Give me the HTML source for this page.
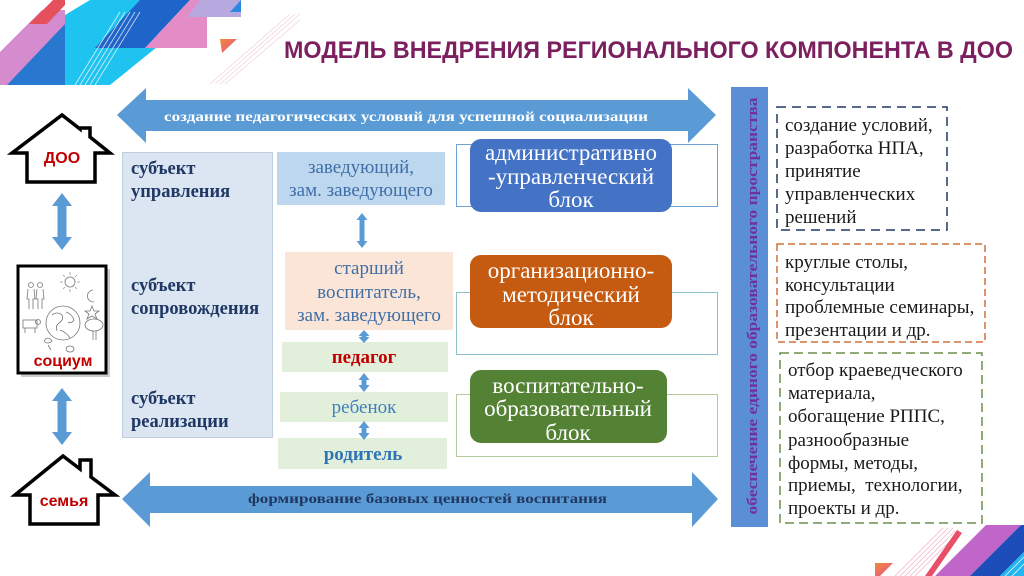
<!DOCTYPE html>
<html><head><meta charset="utf-8"><style>
html,body{margin:0;padding:0;background:#fff;}
svg{display:block;}
.serif{font-family:"Liberation Serif","DejaVu Serif",serif;}
.sans{font-family:"Liberation Sans","DejaVu Sans",sans-serif;}
</style></head><body>
<svg width="1024" height="576" viewBox="0 0 1024 576" xmlns="http://www.w3.org/2000/svg">
<defs>
<linearGradient id="og" x1="0" y1="0" x2="1" y2="1"><stop offset="0" stop-color="#f08a3c"/><stop offset="1" stop-color="#e8508a"/></linearGradient>
</defs>
<rect width="1024" height="576" fill="#fff"/>

<!-- top-left decoration -->
<polygon points="0,52 42,10 65,10 65,85 0,85" fill="#d58ccf"/>
<polygon points="7,85 65,24 65,85" fill="#2878d0"/>
<polygon points="65,85 65,15 90,0 157,0 157,47 110,85" fill="#1fc3ef"/>
<polygon points="95,48 145,48 190,0 140,0" fill="#1f64c8"/>
<polygon points="145,48 207,48 207,0 190,0" fill="#e38cc6"/>
<polygon points="187,17 241,17 241,0 200,0" fill="#b8a8e0"/>
<polygon points="230,12 241,0 241,12" fill="#2a8ae0"/>
<polygon points="29,24 47,24 65,5 65,0 53,0" fill="#e5505c"/>
<g stroke="#ffffff" stroke-width="0.8" opacity="0.8">
<line x1="75" y1="85" x2="120" y2="12"/><line x1="80" y1="85" x2="125" y2="12"/><line x1="85" y1="85" x2="130" y2="12"/><line x1="90" y1="85" x2="135" y2="12"/><line x1="95" y1="85" x2="140" y2="12"/>
</g>
<g stroke="#f2d0dc" stroke-width="0.7">
<line x1="210" y1="84" x2="290" y2="14"/><line x1="215" y1="84" x2="295" y2="14"/><line x1="220" y1="84" x2="300" y2="14"/><line x1="225" y1="84" x2="300" y2="20"/>
</g>
<polygon points="220,39 237,39 222,53" fill="url(#og)"/>

<!-- bottom-right decoration -->
<g stroke="#eeb0c8" stroke-width="0.7">
<line x1="895" y1="576" x2="943" y2="528"/><line x1="900" y1="576" x2="948" y2="528"/><line x1="905" y1="576" x2="953" y2="528"/><line x1="910" y1="576" x2="955" y2="531"/><line x1="915" y1="576" x2="955" y2="536"/>
</g>
<polygon points="875,563 893,563 880,576 875,576" fill="url(#og)"/>
<polygon points="925,576 932,576 962,533 957,530" fill="#e8506a"/>
<polygon points="935,576 970,576 1021,525 986,525" fill="#c066c8"/>
<polygon points="970,576 1000,576 1024,552 1024,525 1021,525" fill="#1c4db8"/>
<polygon points="1000,576 1024,576 1024,552" fill="#22b5ef"/>
<g stroke="#ffffff" stroke-width="0.7"><line x1="1005" y1="576" x2="1024" y2="557"/><line x1="1012" y1="576" x2="1024" y2="564"/></g>

<!-- title -->
<text x="284" y="58" class="sans" font-weight="bold" font-size="24" fill="#7b1f5e" textLength="729" lengthAdjust="spacingAndGlyphs">МОДЕЛЬ ВНЕДРЕНИЯ РЕГИОНАЛЬНОГО КОМПОНЕНТА В ДОО</text>

<!-- top arrow -->
<polygon points="117,115 146,88 146,100 688,100 688,88 716,115 688,143 688,131 146,131 146,143" fill="#5b9bd5"/>
<text x="164" y="121" class="serif" font-weight="bold" font-size="14" fill="#fff" textLength="484" lengthAdjust="spacingAndGlyphs">создание педагогических условий для успешной социализации</text>

<!-- bottom arrow -->
<polygon points="122,499 150,472 150,486 692,486 692,472 718,499 692,527 692,513 150,513 150,527" fill="#5b9bd5"/>
<text x="248" y="503" class="serif" font-weight="bold" font-size="14" fill="#1f3864" textLength="359" lengthAdjust="spacingAndGlyphs">формирование базовых ценностей воспитания</text>

<!-- vertical bar -->
<rect x="731" y="87" width="37" height="440" fill="#5a8fd6"/>
<text transform="translate(757,306) rotate(-90)" text-anchor="middle" class="serif" font-weight="bold" font-size="15" fill="#7030a0" textLength="417" lengthAdjust="spacingAndGlyphs">обеспечение  единого  образовательного  пространства</text>

<!-- houses -->
<path d="M12,153 L62,115 L80,129 L80,128 L90,128 L90,137 L110,153 L95,153 L95,182 L27,182 L27,153 Z" fill="#fff" stroke="#000" stroke-width="3.5" stroke-linejoin="miter"/>
<text x="62" y="163" text-anchor="middle" class="sans" font-weight="bold" font-size="16" fill="#c00000">ДОО</text>
<path d="M15,495 L63,456 L80,469 L80,460 L91,460 L91,477 L115,495 L98,495 L98,524 L30,524 L30,495 Z" fill="#fff" stroke="#000" stroke-width="3.5"/>
<text x="64" y="506" text-anchor="middle" class="sans" font-weight="bold" font-size="16" fill="#c00000">семья</text>

<!-- vertical double arrows left -->
<polygon points="62,193 72,206 66.5,206 66.5,237 72,237 62,250 52,237 57.5,237 57.5,206 52,206" fill="#5b9bd5"/>
<polygon points="62,388 72,401 66.5,401 66.5,432 72,432 62,445 52,432 57.5,432 57.5,401 52,401" fill="#5b9bd5"/>

<!-- socium -->
<rect x="21" y="269" width="89" height="108" fill="#9a9a9a" opacity="0.5"/>
<rect x="18" y="266" width="88" height="107" fill="#fff" stroke="#000" stroke-width="3"/>
<g fill="none" stroke="#777" stroke-width="0.8">
<circle cx="70" cy="282" r="5"/>
<g stroke="#999"><line x1="70" y1="272" x2="70" y2="275"/><line x1="70" y1="289" x2="70" y2="292"/><line x1="60" y1="282" x2="63" y2="282"/><line x1="77" y1="282" x2="80" y2="282"/><line x1="63" y1="275" x2="65" y2="277"/><line x1="75" y1="287" x2="77" y2="289"/><line x1="77" y1="275" x2="75" y2="277"/><line x1="63" y1="289" x2="65" y2="287"/></g>
<path d="M93,290 A6,6 0 1,0 94,302 A5,5 0 1,1 93,290 Z"/>
<circle cx="63" cy="323" r="17"/>
<path d="M52,315 q5,-4 10,0 q2,5 -3,8 q-4,3 -2,8 M66,312 q6,2 8,8 q-3,4 -6,2 M60,330 q6,2 10,8"/>
<polygon points="92,306 94,311 99,311 95,314 97,319 92,316 87,319 89,314 85,311 90,311"/>
<ellipse cx="94" cy="325" rx="9" ry="6"/><line x1="93" y1="331" x2="93" y2="340"/><line x1="96" y1="331" x2="96" y2="340"/>
<circle cx="31" cy="285" r="2.5"/><path d="M28,289 l-1,10 l2,0 l0,10 M34,289 l1,10 l-2,0 l0,10"/>
<circle cx="40" cy="285" r="2.5"/><path d="M37,289 l-1,10 l2,0 l0,10 M43,289 l1,10 l-2,0 l0,10"/>
<rect x="23" y="320" width="14" height="8"/><line x1="25" y1="328" x2="25" y2="333"/><line x1="35" y1="328" x2="35" y2="333"/><circle cx="38" cy="322" r="2.5"/>
<path d="M44,341 q4,-6 8,0 q-4,4 -8,0 M48,345 l3,5"/>
<ellipse cx="70" cy="349" rx="4" ry="3"/>
</g>
<text x="63" y="366" text-anchor="middle" class="sans" font-weight="bold" font-size="16" fill="#c00000">социум</text>

<!-- subject column -->
<rect x="122.5" y="152.5" width="150" height="285" fill="#dce6f2" stroke="#bfcde0" stroke-width="1"/>
<g class="serif" font-weight="bold" font-size="18.5" fill="#1f3864">
<text x="131" y="174">субъект</text>
<text x="131" y="197">управления</text>
<text x="131" y="291">субъект</text>
<text x="131" y="314">сопровождения</text>
<text x="131" y="404">субъект</text>
<text x="131" y="427">реализации</text>
</g>

<!-- middle column -->
<rect x="277" y="152" width="168" height="53" fill="#bdd7ee"/>
<rect x="285" y="252" width="168" height="78" fill="#fbe5d6"/>
<rect x="282" y="342" width="166" height="30" fill="#e2efda"/>
<rect x="280" y="392" width="168" height="30" fill="#e2efda"/>
<rect x="278" y="438" width="169" height="31" fill="#e2efda"/>
<g class="serif" font-size="19" fill="#3f6ea8" text-anchor="middle">
<text x="361" y="173">заведующий,</text>
<text x="361" y="196">зам. заведующего</text>
<text x="369" y="274">старший</text>
<text x="369" y="298">воспитатель,</text>
<text x="369" y="321">зам. заведующего</text>
<text x="364" y="413" fill="#3f7fbf">ребенок</text>
</g>
<text x="364" y="363" text-anchor="middle" class="serif" font-weight="bold" font-size="19" fill="#c00000">педагог</text>
<text x="363" y="460" text-anchor="middle" class="serif" font-weight="bold" font-size="19" fill="#2e75b6">родитель</text>

<!-- small arrows -->
<g fill="#5b9bd5">
<polygon points="362,213 367.5,220 364.5,220 364.5,241 367.5,241 362,248 356.5,241 359.5,241 359.5,220 356.5,220"/>
<polygon points="364,330 369.5,336 366.5,336 366.5,337 369.5,337 364,343 358.5,337 361.5,337 361.5,336 358.5,336"/>
<polygon points="364,373 369.5,380 366.5,380 366.5,385 369.5,385 364,392 358.5,385 361.5,385 361.5,380 358.5,380"/>
<polygon points="364,421 369.5,428 366.5,428 366.5,433 369.5,433 364,440 358.5,433 361.5,433 361.5,428 358.5,428"/>
</g>

<!-- blocks -->
<rect x="456.5" y="144.5" width="261" height="62" fill="none" stroke="#6fa3d6" stroke-width="1"/>
<rect x="456.5" y="292.5" width="261" height="62" fill="none" stroke="#8cc0cc" stroke-width="1"/>
<rect x="456.5" y="394.5" width="261" height="62" fill="none" stroke="#b4c99c" stroke-width="1"/>
<rect x="470" y="139" width="202" height="73" rx="11" fill="#4472c4"/>
<rect x="470" y="255" width="202" height="73" rx="11" fill="#c55a11"/>
<rect x="470" y="370" width="197" height="73" rx="11" fill="#548235"/>
<g class="serif" font-size="23" fill="#fff" text-anchor="middle">
<text x="571" y="160">административно</text>
<text x="571" y="184">-управленческий</text>
<text x="571" y="207">блок</text>
<text x="571" y="278">организационно-</text>
<text x="571" y="302">методический</text>
<text x="571" y="325">блок</text>
<text x="568" y="393">воспитательно-</text>
<text x="568" y="416">образовательный</text>
<text x="568" y="440">блок</text>
</g>

<!-- dashed boxes right -->
<rect x="777" y="107" width="170" height="123" fill="#fff" stroke="#203864" stroke-width="1.5" stroke-dasharray="9,6"/>
<rect x="777" y="244" width="208" height="98" fill="#fff" stroke="#d0703a" stroke-width="1.5" stroke-dasharray="7,4"/>
<rect x="780" y="353" width="202" height="170" fill="#fff" stroke="#6a8f4a" stroke-width="1.5" stroke-dasharray="9,5"/>
<g class="serif" font-size="19" fill="#1a1a1a">
<text x="785" y="131">создание условий,</text>
<text x="785" y="154">разработка НПА,</text>
<text x="785" y="177">принятие</text>
<text x="785" y="200">управленческих</text>
<text x="785" y="223">решений</text>
<text x="785" y="268">круглые столы,</text>
<text x="785" y="291">консультации</text>
<text x="785" y="313">проблемные семинары,</text>
<text x="785" y="336">презентации и др.</text>
<text x="788" y="376">отбор краеведческого</text>
<text x="788" y="399">материала,</text>
<text x="788" y="422">обогащение РППС,</text>
<text x="788" y="446">разнообразные</text>
<text x="788" y="469">формы, методы,</text>
<text x="788" y="491" xml:space="preserve">приемы,  технологии,</text>
<text x="788" y="514">проекты и др.</text>
</g>
</svg>
</body></html>
